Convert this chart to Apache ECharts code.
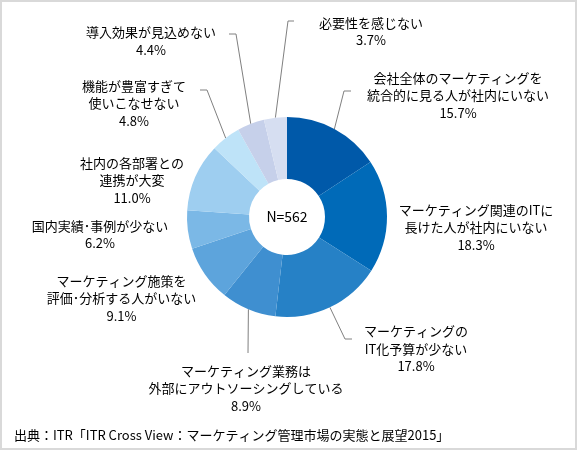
<!DOCTYPE html>
<html>
<head>
<meta charset="utf-8">
<script src="https://cdn.jsdelivr.net/npm/echarts@6/dist/echarts.min.js"></script>
<style>
html,body{margin:0;padding:0;background:#fff;}
#chart{width:577px;height:450px;}
</style>
</head>
<body>
<div id="chart"></div>
<script>
// ---- data ----
const categories = [
  '会社全体のマーケティングを\n統合的に見る人が社内にいない',
  'マーケティング関連のITに\n長けた人が社内にいない',
  'マーケティングの\nIT化予算が少ない',
  'マーケティング業務は\n外部にアウトソーシングしている',
  'マーケティング施策を\n評価･分析する人がいない',
  '国内実績･事例が少ない',
  '社内の各部署との\n連携が大変',
  '機能が豊富すぎて\n使いこなせない',
  '導入効果が見込めない',
  '必要性を感じない'
];
const values = [15.7, 18.3, 17.8, 8.9, 9.1, 6.2, 11.0, 4.8, 4.4, 3.7];
const sampleLabel = 'N=562';
const sourceNote = '出典：ITR「ITR Cross View：マーケティング管理市場の実態と展望2015」';

// ---- styling / layout (not data) ----
const colors = ['#0059A9','#006AB8','#2681C6','#3F8FD0','#5DA4DC','#7BB8E6','#9ECEF0','#BEE3F8','#C6D0EA','#D6DEF1'];
const CX = 287, CY = 217, R_IN = 38, R_OUT = 100;
// label anchor (center x, middle y) and leader bend/end points
const labelPos = [
  [458, 95.5], [476, 227.5], [416, 349], [246, 388.5], [121.5, 298.5],
  [100, 234.5], [132, 180.5], [134, 103.5], [151, 41], [371, 31.5]
];
const leader = [
  [[344, 91], [351, 91]],
  null,
  [[345, 339], [352, 339]],
  [[248, 353], [248, 353]],
  null,
  null,
  null,
  [[207, 90], [200, 90]],
  [[236, 34], [229, 34]],
  [[288, 21], [294, 21]]
];
const FONT = '"Noto Sans CJK JP", "Noto Sans", sans-serif';

const chart = echarts.init(document.getElementById('chart'), null, {renderer: 'canvas'});
chart.setOption({
  backgroundColor: '#ffffff',
  animation: false,
  color: colors,
  title: {
    text: sourceNote,
    left: 9, top: 424,
    textStyle: {fontSize: 13, fontWeight: 'normal', color: '#000', fontFamily: FONT}
  },
  graphic: [
    {type: 'rect', shape: {x: 1, y: 1, width: 575, height: 448},
     style: {fill: 'none', stroke: '#d9d9d9', lineWidth: 2}, silent: true},
    {type: 'text', x: CX, y: CY,
     style: {text: sampleLabel, fill: '#000', font: '14px ' + FONT, align: 'center', verticalAlign: 'middle'}}
  ],
  series: [{
    type: 'pie',
    center: [CX, CY],
    radius: [R_IN, R_OUT],
    startAngle: 90,
    clockwise: true,
    avoidLabelOverlap: false,
    itemStyle: {borderWidth: 0},
    emphasis: {disabled: true},
    label: {
      show: true,
      position: 'outside',
      formatter: p => p.name + '\n' + p.value.toFixed(1) + '%',
      color: '#000',
      fontSize: 13,
      fontFamily: FONT,
      lineHeight: 17.5,
      align: 'center'
    },
    labelLine: {show: true, lineStyle: {color: '#808080', width: 1}},
    labelLayout: function (params) {
      const i = params.dataIndex;
      const pos = labelPos[i];
      const out = {x: pos[0], y: pos[1], align: 'center', verticalAlign: 'middle'};
      if (leader[i] && params.labelLinePoints) {
        const s = params.labelLinePoints[0];
        out.labelLinePoints = [s, leader[i][0], leader[i][1]];
      }
      return out;
    },
    data: categories.map((c, i) => ({
      name: c,
      value: values[i],
      labelLine: {show: !!leader[i]}
    }))
  }]
});
</script>
</body>
</html>
